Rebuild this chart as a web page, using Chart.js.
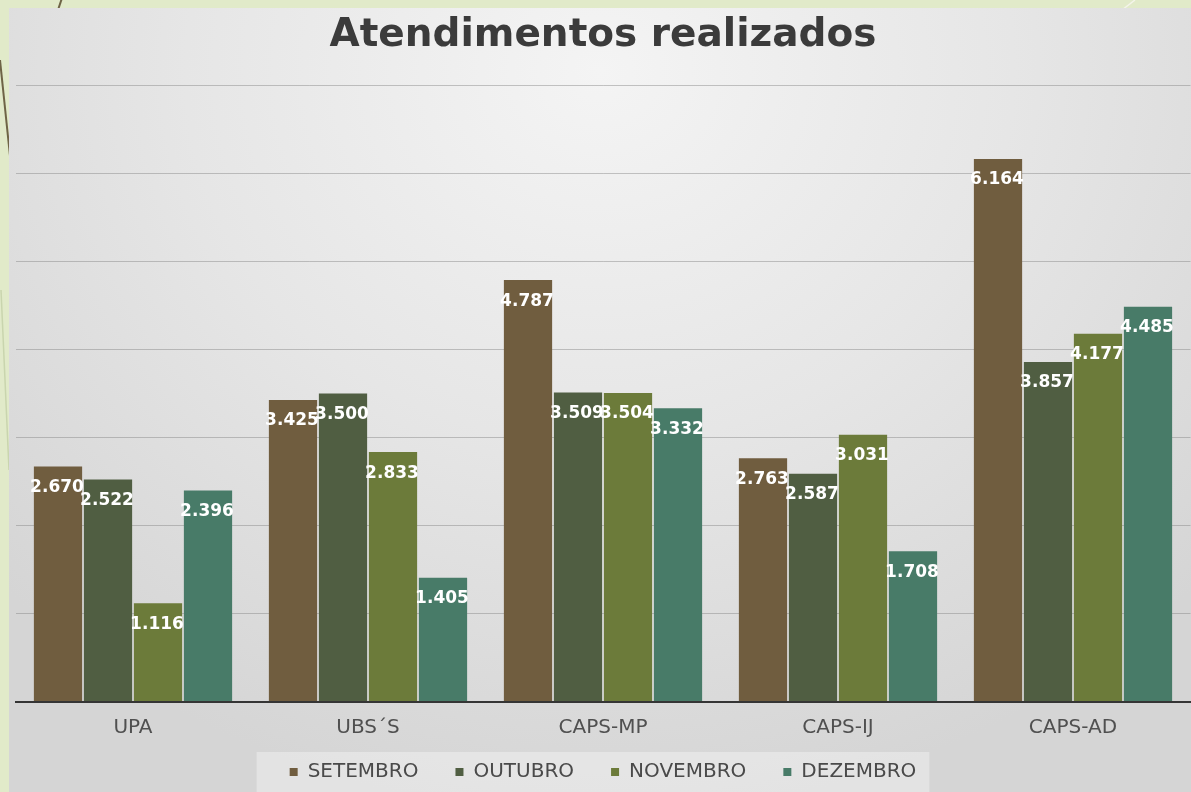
<!DOCTYPE html>
<html>
<head>
<meta charset="utf-8">
<script src="https://cdn.jsdelivr.net/npm/chart.js@4.4.1/dist/chart.umd.min.js"></script>
<style>
html, body { margin: 0; padding: 0; }
body { width: 1191px; height: 792px; overflow: hidden; background: #e1eac9; position: relative; }
#deco { position: absolute; left: 0; top: 0; }
#panel {
    position: absolute; left: 9px; top: 8px; width: 1182px; height: 784px;
    background: radial-gradient(ellipse 70% 95% at 50% 8%, #f4f4f4 0%, #e6e6e6 50%, #d5d5d5 100%);
}
</style>
</head>
<body>
<svg id="deco" width="1191" height="792">
    <line x1="62" y1="-2" x2="48" y2="40" stroke="#6e6446" stroke-width="2"/>
    <line x1="0" y1="60" x2="12" y2="175" stroke="#6e6446" stroke-width="2"/>
    <line x1="1" y1="290" x2="9" y2="470" stroke="#c9d5ae" stroke-width="1.5"/>
    <line x1="1135" y1="0" x2="1122" y2="10" stroke="#f4f4ea" stroke-width="1.5"/>
</svg>
<div id="panel"><canvas id="grafico" width="1182" height="784"></canvas></div>
<script>
// dados do grafico
const categorias = ['UPA', 'UBS´S', 'CAPS-MP', 'CAPS-IJ', 'CAPS-AD'];
const meses = ['SETEMBRO', 'OUTUBRO', 'NOVEMBRO', 'DEZEMBRO'];
const setembro = [2670, 3425, 4787, 2763, 6164];
const outubro  = [2522, 3500, 3509, 2587, 3857];
const novembro = [1116, 2833, 3504, 3031, 4177];
const dezembro = [2396, 1405, 3332, 1708, 4485];
const cores = ['#705d3f', '#505e42', '#6c7b3a', '#487b68'];

// 2670 -> "2.670"
function formatar(v) {
    return Math.floor(v / 1000) + '.' + String(v % 1000).padStart(3, '0');
}

// rotulos brancos no topo das barras
const rotulos = {
    id: 'rotulos',
    afterDatasetsDraw(chart) {
        const ctx = chart.ctx;
        ctx.save();
        ctx.font = 'bold 17px "DejaVu Sans"';
        ctx.fillStyle = '#ffffff';
        ctx.textAlign = 'center';
        ctx.textBaseline = 'middle';
        chart.data.datasets.forEach((ds, i) => {
            chart.getDatasetMeta(i).data.forEach((bar, j) => {
                ctx.fillText(formatar(ds.data[j]), bar.x - 1, bar.y + 21);
            });
        });
        ctx.restore();
    }
};

// fundo claro atras da legenda
const fundoLegenda = {
    id: 'fundoLegenda',
    beforeDraw(chart) {
        const boxes = chart.legend && chart.legend.legendHitBoxes;
        if (!boxes || !boxes.length) return;
        const ult = boxes[boxes.length - 1];
        const x0 = boxes[0].left - 33;
        const x1 = ult.left + ult.width + 13;
        const y0 = boxes[0].top - 10;
        const ctx = chart.ctx;
        ctx.save();
        ctx.fillStyle = 'rgba(255,255,255,0.35)';
        ctx.fillRect(x0, y0, x1 - x0, chart.height - y0);
        ctx.restore();
    }
};

const series = [setembro, outubro, novembro, dezembro];

new Chart(document.getElementById('grafico'), {
    type: 'bar',
    data: {
        labels: categorias,
        datasets: meses.map((m, i) => ({
            label: m,
            data: series[i],
            backgroundColor: cores[i],
            borderWidth: 0,
            categoryPercentage: 0.851,
            barPercentage: 0.965
        }))
    },
    options: {
        responsive: false,
        animation: false,
        layout: { padding: { left: 6.5, right: 0.5, top: 0, bottom: 0 } },
        plugins: {
            title: {
                display: true,
                text: 'Atendimentos realizados',
                color: '#3b3b3b',
                font: { family: 'DejaVu Sans', size: 39, weight: 'bold' },
                padding: { top: 4.5, bottom: 26 }
            },
            legend: {
                position: 'bottom',
                maxHeight: 69.5,
                labels: {
                    color: '#4a4a4a',
                    font: { family: 'DejaVu Sans', size: 20 },
                    boxWidth: 8,
                    boxHeight: 8,
                    padding: 37
                }
            },
            tooltip: { enabled: false }
        },
        scales: {
            x: {
                grid: { display: false, drawTicks: false },
                border: { display: true, color: '#353535', width: 2 },
                ticks: {
                    color: '#505050',
                    font: { family: 'DejaVu Sans', size: 20 },
                    mirror: true,
                    padding: -38.5
                },
                afterFit(scale) { scale.height = 23.5; }
            },
            y: {
                min: 0,
                max: 7000,
                ticks: { display: false, stepSize: 1000 },
                border: { display: false },
                grid: {
                    drawTicks: false,
                    color: ctx => ctx.tick && ctx.tick.value === 0 ? 'rgba(0,0,0,0)' : 'rgba(130,130,130,0.45)',
                    lineWidth: 1
                }
            }
        }
    },
    plugins: [fundoLegenda, rotulos]
});
</script>
</body>
</html>
